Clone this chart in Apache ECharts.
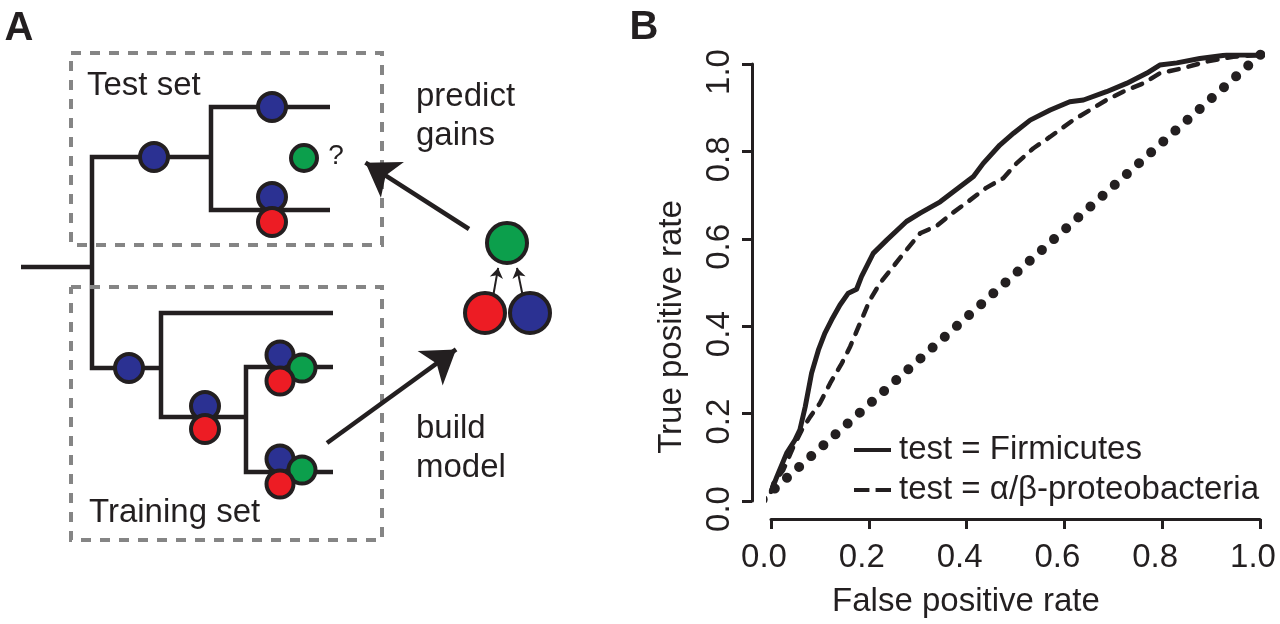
<!DOCTYPE html>
<html><head><meta charset="utf-8">
<script src="https://cdn.jsdelivr.net/npm/echarts@6/dist/echarts.min.js"></script>
<style>html,body{margin:0;padding:0;background:#fff}#c{width:1280px;height:624px}</style>
</head><body><div id="c"></div>
<script>
const FONT = '"Liberation Sans", Arial, Helvetica, sans-serif';
const INK = '#231f20';
const FS = 33;

// ---------- Panel B data ----------
const tickLabels = ['0.0', '0.2', '0.4', '0.6', '0.8', '1.0'];
const seriesNames = ['test = Firmicutes', 'test = α/β-proteobacteria'];
const xTitle = 'False positive rate';
const yTitle = 'True positive rate';
const firmicutesROC = [
  [0,0],[0.012,0.035],[0.032,0.089],[0.049,0.119],[0.059,0.142],[0.070,0.195],[0.083,0.272],
  [0.097,0.325],[0.110,0.363],[0.124,0.394],[0.141,0.428],[0.158,0.455],[0.175,0.464],[0.185,0.493],
  [0.209,0.546],[0.237,0.577],[0.277,0.619],[0.305,0.638],[0.346,0.664],[0.387,0.699],[0.414,0.722],
  [0.434,0.752],[0.468,0.794],[0.496,0.821],[0.530,0.851],[0.571,0.874],[0.611,0.893],[0.639,0.897],
  [0.686,0.916],[0.727,0.935],[0.768,0.958],[0.795,0.977],[0.830,0.982],[0.877,0.992],[0.932,1.0],[1.0,1.0]
];
const proteoROC = [
  [0,0],[0.005,0.020],[0.025,0.050],[0.046,0.104],[0.063,0.142],[0.080,0.172],[0.100,0.203],
  [0.121,0.249],[0.145,0.295],[0.162,0.333],[0.182,0.386],[0.202,0.439],[0.223,0.478],[0.250,0.516],
  [0.277,0.554],[0.305,0.592],[0.339,0.609],[0.373,0.640],[0.400,0.662],[0.440,0.696],[0.475,0.718],
  [0.502,0.752],[0.536,0.786],[0.571,0.813],[0.618,0.851],[0.652,0.874],[0.686,0.897],[0.720,0.916],
  [0.761,0.935],[0.795,0.958],[0.843,0.970],[0.891,0.985],[0.945,0.996],[1.0,1.0]
];
const randomDiagonal = [[-0.017,-0.017],[1.025,1.025]];

// ---------- Panel A schematic (diagram units) ----------
const testBox = [[71,53],[382,53],[382,245],[71,245],[71,53]];
const trainBox = [[71,287],[382,287],[382,540],[71,540],[71,287]];
const treePaths = [
  [[21,267],[92,267]],
  [[211,157],[92,157],[92,368],[161,368]],
  [[330,107],[211,107],[211,210],[330,210]],
  [[333,313],[161,313],[161,417],[246,417]],
  [[333,367],[246,367],[246,472],[333,472]]
];
// [x, y, state, size]
const treeNodes = [
  [154,157,'b',28],[272,107,'b',28],[272,197,'b',28],[272,222,'r',28],[304,158,'g',26],
  [129,368,'b',28],[205,406,'b',28],[205,429,'r',28],
  [280,355,'b',27],[302,368,'g',27],[280,381,'r',27],
  [280,459,'b',27],[302,470,'g',27],[280,484,'r',27],
  [507,243,'g',40],[485,313,'r',40],[530,313,'b',40]
];
const stateColors = { b: '#2b3192', r: '#ed1c24', g: '#0c9f4c' };
// [start, tip, headSize, lineWidth]
const arrows = [
  [[469,229],[352,154],32,4.5],
  [[327,443],[469,340],32,4.5],
  [[493,297],[499,263],10,2],
  [[523,297],[516,263],10,2]
];
const panelAText = [
  ['Test set', 87, 86], ['Training set', 89, 513],
  ['predict', 416, 97], ['gains', 416, 136],
  ['build', 416, 429], ['model', 416, 468]
];
const legendIcons = [
  'path://M0,0h36v4h-36z',
  'path://M0,0h15v4h-15z M21,0h15v4h-15z'
];

function arrowEnd(s, t, head) {
  const dx = t[0]-s[0], dy = t[1]-s[1], L = Math.hypot(dx, dy);
  return [t[0]-dx/L*head/2, t[1]-dy/L*head/2];
}

const chart = echarts.init(document.getElementById('c'));
const hiddenAxis = (grid, min, max, inverse) => ({ gridIndex: grid, type: 'value', min, max, inverse: !!inverse, show: false });

const arrowSeries = arrows.map(a => ({
  type: 'lines', coordinateSystem: 'cartesian2d', xAxisIndex: 1, yAxisIndex: 1,
  symbol: ['none', 'arrow'], symbolSize: a[2], silent: true, animation: false, z: 4,
  lineStyle: { color: INK, width: a[3], opacity: 1, curveness: 0 },
  itemStyle: { color: INK },
  data: [{ coords: [a[0], arrowEnd(a[0], a[1], a[2])] }]
}));

chart.setOption({
  animation: false,
  backgroundColor: '#fff',
  grid: [
    { left: 771, top: 55, width: 489, height: 437, outerBoundsMode: 'none' },
    { left: 0, top: 0, width: 600, height: 624, outerBoundsMode: 'none' },
    { left: 771, top: 64, width: 489, height: 437, outerBoundsMode: 'none' }
  ],
  xAxis: [
    hiddenAxis(0, 0, 1),
    hiddenAxis(1, 0, 600),
    { gridIndex: 2, type: 'value', min: 0, max: 1, interval: 0.2, offset: 18,
      axisLine: { show: true, onZero: false, lineStyle: { color: INK, width: 3 } },
      axisTick: { show: true, length: 10, lineStyle: { color: INK, width: 3 } },
      axisLabel: { fontFamily: FONT, fontSize: FS, color: INK, margin: 22, padding: [0,14,0,0],
        showMinLabel: true, showMaxLabel: true,
        formatter: v => tickLabels[Math.round(v / 0.2)] },
      splitLine: { show: false } }
  ],
  yAxis: [
    hiddenAxis(0, 0, 1),
    hiddenAxis(1, 0, 624, true),
    { gridIndex: 2, type: 'value', min: 0, max: 1, interval: 0.2, offset: 19,
      axisLine: { show: true, onZero: false, lineStyle: { color: INK, width: 3 } },
      axisTick: { show: true, length: 10, lineStyle: { color: INK, width: 3 } },
      axisLabel: { fontFamily: FONT, fontSize: FS, color: INK, margin: 16, rotate: 90, padding: [0,16,0,0],
        showMinLabel: true, showMaxLabel: true,
        formatter: v => tickLabels[Math.round(v / 0.2)] },
      splitLine: { show: false } }
  ],
  legend: {
    data: seriesNames.map((n, i) => ({ name: n, icon: legendIcons[i] })),
    orient: 'vertical', left: 849, top: 428,
    itemWidth: 37, itemHeight: 5, itemGap: 6, selectedMode: false,
    textStyle: { fontFamily: FONT, fontSize: FS, color: INK, lineHeight: 34, padding: [0,0,0,3] }
  },
  graphic: [
    { type: 'text', x: 19, y: 29, style: { text: 'A', font: 'bold 40px ' + FONT, fill: INK, textAlign: 'center', textVerticalAlign: 'middle' } },
    { type: 'text', x: 644, y: 28, style: { text: 'B', font: 'bold 40px ' + FONT, fill: INK, textAlign: 'center', textVerticalAlign: 'middle' } },
    { type: 'text', x: 336, y: 156, style: { text: '?', font: '28px ' + FONT, fill: INK, textAlign: 'center', textVerticalAlign: 'middle' } },
    ...panelAText.map(t => ({ type: 'text', x: t[1], y: t[2], style: { text: t[0], font: FS + 'px ' + FONT, fill: INK, textAlign: 'left', textVerticalAlign: 'middle' } })),
    { type: 'text', x: 966, y: 602, style: { text: xTitle, font: FS + 'px ' + FONT, fill: INK, textAlign: 'center', textVerticalAlign: 'middle' } },
    { type: 'text', x: 672, y: 327, rotation: Math.PI / 2, style: { text: yTitle, font: FS + 'px ' + FONT, fill: INK, textAlign: 'center', textVerticalAlign: 'middle' } }
  ],
  series: [
    { name: seriesNames[0], type: 'line', xAxisIndex: 0, yAxisIndex: 0, data: firmicutesROC,
      symbol: 'none', showSymbol: false, z: 4,
      lineStyle: { color: INK, width: 5, join: 'round' }, itemStyle: { color: INK } },
    { name: seriesNames[1], type: 'line', xAxisIndex: 0, yAxisIndex: 0, data: proteoROC,
      symbol: 'none', showSymbol: false, z: 3,
      lineStyle: { color: INK, width: 4.5, type: [10, 10], cap: 'round', join: 'round' }, itemStyle: { color: INK } },
    { name: 'random', type: 'line', xAxisIndex: 0, yAxisIndex: 0, data: randomDiagonal,
      symbol: 'none', showSymbol: false, clip: false, z: 2,
      lineStyle: { color: INK, width: 10, type: [0.01, 16.27], cap: 'round' } },
    { type: 'lines', coordinateSystem: 'cartesian2d', xAxisIndex: 1, yAxisIndex: 1, polyline: true,
      silent: true, z: 2,
      lineStyle: { color: INK, width: 4.5, opacity: 1, join: 'miter', cap: 'butt' },
      data: treePaths.map(p => ({ coords: p })) },
    { type: 'lines', coordinateSystem: 'cartesian2d', xAxisIndex: 1, yAxisIndex: 1, polyline: true,
      silent: true, z: 3,
      lineStyle: { color: '#858585', width: 4, opacity: 1, type: [10, 9] },
      data: [testBox, trainBox].map(p => ({ coords: p })) },
    ...arrowSeries,
    { type: 'scatter', xAxisIndex: 1, yAxisIndex: 1, z: 5, silent: true,
      symbolSize: v => v[2],
      data: treeNodes.map(n => ({ value: [n[0], n[1], n[3]],
        itemStyle: { color: stateColors[n[2]], borderColor: INK, borderWidth: 4, opacity: 1 } })) }
  ]
});
</script></body></html>
